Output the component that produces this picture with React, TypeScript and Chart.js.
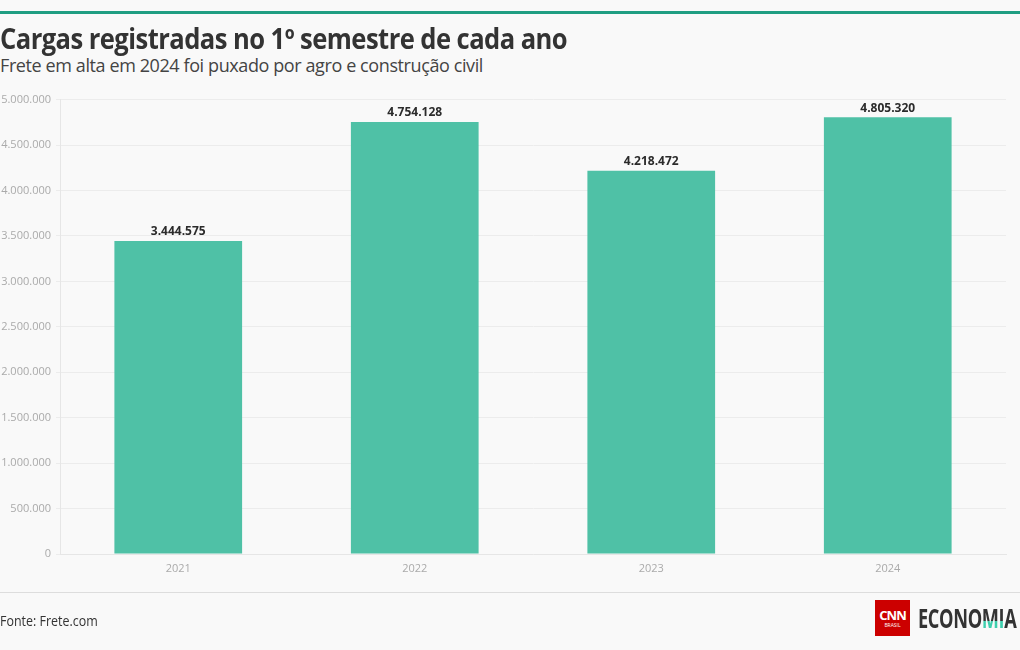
import React, { useEffect, useRef } from "react";
import { Chart, registerables } from "chart.js";

Chart.register(...registerables);

const categories = ["2021", "2022", "2023", "2024"];
const values = [3444575, 4754128, 4218472, 4805320];
const yTicks = [0, 500000, 1000000, 1500000, 2000000, 2500000, 3000000, 3500000, 4000000, 4500000, 5000000];

const FONT = "'Source Sans Pro', 'Open Sans', 'Noto Sans', sans-serif";
const fmt = (v: number) => v.toLocaleString("de-DE");

const labelPlugin = {
  id: "barLabels",
  afterDatasetsDraw(chart: any) {
    const ctx = chart.ctx;
    const meta = chart.getDatasetMeta(0);
    ctx.save();
    ctx.font = `bold 12px ${FONT}`;
    ctx.fillStyle = "#2b2b2b";
    ctx.textAlign = "center";
    ctx.textBaseline = "bottom";
    meta.data.forEach((bar: any, i: number) => {
      ctx.fillText(fmt(values[i]), bar.x, bar.y - 3);
    });
    ctx.restore();
  },
};

export default function App() {
  const ref = useRef<HTMLCanvasElement>(null);
  useEffect(() => {
    const chart = new Chart(ref.current!, {
      type: "bar",
      data: {
        labels: categories,
        datasets: [
          {
            data: values,
            backgroundColor: "#4fc1a6",
            borderWidth: 0,
            categoryPercentage: 1,
            barPercentage: 0.54,
          },
        ],
      },
      options: {
        animation: false,
        responsive: false,
        maintainAspectRatio: false,
        layout: { padding: { top: 9, right: 14, left: 0, bottom: 0 } },
        plugins: { legend: { display: false }, tooltip: { enabled: false } },
        scales: {
          x: {
            grid: { display: false, drawTicks: false },
            border: { color: "#e6e6e6" },
            ticks: { color: "#aaaaaa", font: { family: FONT, size: 11 }, padding: 8 },
            afterFit: (s: any) => { s.height = 30; },
          },
          y: {
            min: 0,
            max: 5000000,
            afterBuildTicks: (s: any) => { s.ticks = yTicks.map((v) => ({ value: v })); },
            grid: { color: "#ececec", tickLength: 4 },
            border: { color: "#e6e6e6" },
            ticks: {
              color: "#aaaaaa",
              font: { family: FONT, size: 11 },
              padding: 5,
              callback: (v: any) => fmt(Number(v)),
            },
            afterFit: (s: any) => { s.width = 60; },
          },
        },
      },
      plugins: [labelPlugin],
    });
    return () => chart.destroy();
  }, []);

  const tealText: React.CSSProperties = {
    backgroundImage: "linear-gradient(180deg, #333 58%, #3ecfae 58%)",
    WebkitBackgroundClip: "text",
    backgroundClip: "text",
    color: "transparent",
  };

  return (
    <div style={{ position: "fixed", left: 0, top: 0, width: 1020, height: 650, background: "#f9f9f9", overflow: "hidden", fontFamily: FONT }}>
      <div style={{ position: "absolute", left: 0, top: 11, width: 1020, height: 3, background: "#1f9e82" }} />
      <div style={{ position: "absolute", left: 0, top: 19, fontSize: 28, fontWeight: 700, color: "#333", letterSpacing: -0.6, whiteSpace: "nowrap", transform: "scaleX(0.913)", transformOrigin: "left top" }}>
        Cargas registradas no 1º semestre de cada ano
      </div>
      <div style={{ position: "absolute", left: 0, top: 53, fontSize: 18, color: "#444", letterSpacing: -0.4, whiteSpace: "nowrap" }}>
        Frete em alta em 2024 foi puxado por agro e construção civil
      </div>
      <canvas ref={ref} width={1020} height={496} style={{ position: "absolute", left: 0, top: 88, width: 1020, height: 496 }} />
      <div style={{ position: "absolute", left: 0, top: 592, width: 1020, height: 1, background: "#dddddd" }} />
      <div style={{ position: "absolute", left: 0, top: 611, fontSize: 14, color: "#333", whiteSpace: "nowrap", transform: "scaleX(0.89)", transformOrigin: "left top" }}>Fonte: Frete.com</div>
      <div style={{ position: "absolute", left: 875, top: 600, width: 35, height: 36, background: "#cc0000", color: "#fff", display: "flex", flexDirection: "column", alignItems: "center", justifyContent: "center" }}>
        <div style={{ fontSize: 13, fontWeight: 700, lineHeight: "13px", letterSpacing: -1 }}>CNN</div>
        <div style={{ fontSize: 5, lineHeight: "6px" }}>BRASIL</div>
      </div>
      <div style={{ position: "absolute", left: 918, top: 602, fontSize: 26, fontWeight: 700, color: "#333", letterSpacing: -0.5, transform: "scaleX(0.7)", transformOrigin: "left top", whiteSpace: "nowrap", lineHeight: "32px" }}>
        ECONO<span style={tealText}>MI</span>A
      </div>
    </div>
  );
}
